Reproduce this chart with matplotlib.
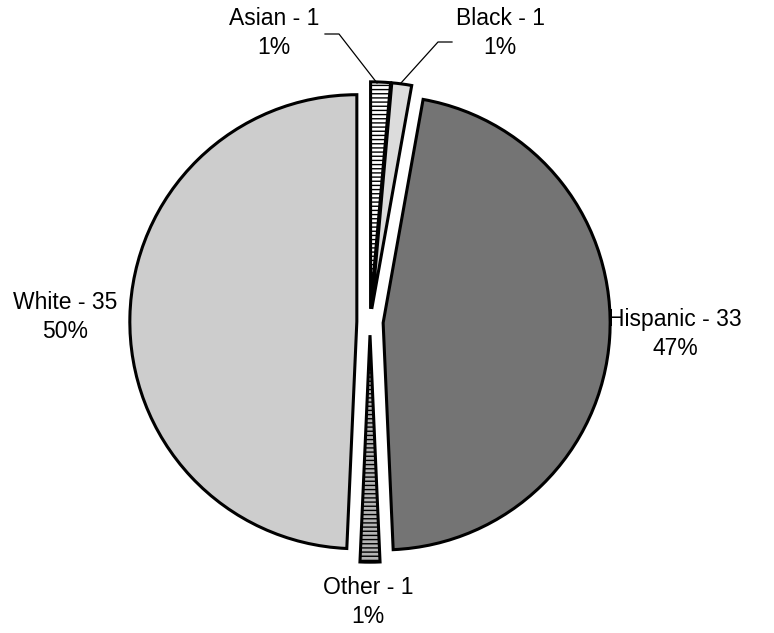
import matplotlib.pyplot as plt
from matplotlib.lines import Line2D

# data (clockwise from 12 o'clock)
groups = ["Asian", "Black", "Hispanic", "Other", "White"]
counts = [1, 1, 33, 1, 35]
percents = ["1%", "1%", "47%", "1%", "50%"]

# fill + hatch per slice to stand in for the Excel patterns
face_colors = ["#ffffff", "#dcdcdc", "#747474", "#b4b4b4", "#cdcdcd"]
hatches = ["----", "", "", "----", ""]

W, H = 774, 633
fig = plt.figure(figsize=(W / 100, H / 100), dpi=100)
ax = fig.add_axes([0, 0, 1, 1])

wedges, _ = ax.pie(
    counts,
    startangle=90,
    counterclock=False,
    explode=[0.058] * len(counts),
    colors=face_colors,
    wedgeprops=dict(edgecolor="black", linewidth=2.2),
)
for w, h in zip(wedges, hatches):
    if h:
        w.set_hatch(h)

# 1 data unit = 227 px, pie centre at pixel (370, 322)
r_px = 227
cx, cy = 370, 322
ax.set_aspect("auto")
ax.set_xlim(-cx / r_px, (W - cx) / r_px)
ax.set_ylim(-(H - cy) / r_px, cy / r_px)
ax.axis("off")

# label positions in pixels (x, y from top)
label_pos = {
    "Asian": (274, 33),
    "Black": (500, 33),
    "Hispanic": (675, 334),
    "Other": (368, 602),
    "White": (65, 317),
}
for g, n, p in zip(groups, counts, percents):
    x, y = label_pos[g]
    fig.text(x / W, 1 - y / H, f"{g} - {n}\n{p}", ha="center", va="center",
             fontsize=16.5, family="Liberation Sans", linespacing=1.35)

# leader lines for the two thin top slices
leaders = [
    [(325, 34), (339, 34), (377, 83)],
    [(452, 42), (438, 42), (401, 83)],
]
for pts in leaders:
    xs = [p[0] / W for p in pts]
    ys = [1 - p[1] / H for p in pts]
    fig.add_artist(Line2D(xs, ys, transform=fig.transFigure,
                          color="black", linewidth=0.9))

plt.savefig("out.png", dpi=100)
